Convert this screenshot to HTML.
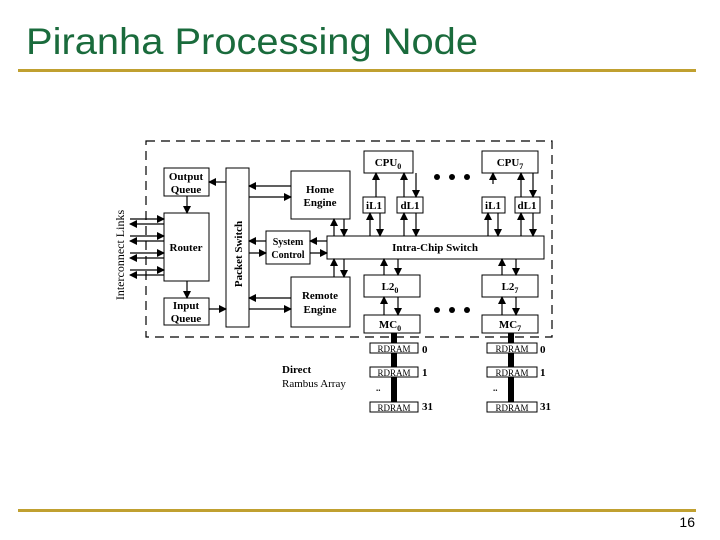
<!DOCTYPE html>
<html><head><meta charset="utf-8"><style>
html,body{margin:0;padding:0;background:#fff;}
svg{display:block;}
</style></head><body>
<svg width="720" height="540" viewBox="0 0 720 540" xmlns="http://www.w3.org/2000/svg">
<defs>
<marker id="a" markerWidth="8" markerHeight="8" refX="7" refY="4" orient="auto" markerUnits="userSpaceOnUse">
<path d="M0,0 L8,4 L0,8 z" fill="#000"/></marker>
</defs>
<text x="26" y="54" font-family="Liberation Sans, sans-serif" font-size="37" fill="#1a6b3c" textLength="452" lengthAdjust="spacingAndGlyphs">Piranha Processing Node</text>
<rect x="18" y="69" width="678" height="3" fill="#c0a030"/>
<rect x="18" y="509" width="678" height="3" fill="#c0a030"/>
<text x="695" y="527" text-anchor="end" font-family="Liberation Sans, sans-serif" font-size="14" fill="#000">16</text>

<g font-family="Liberation Serif, serif" font-weight="bold" font-size="11" fill="#000" text-anchor="middle">
<rect x="146" y="141" width="406" height="196" fill="none" stroke="#000" stroke-width="1.2" stroke-dasharray="9,6"/>
<g fill="#fff" stroke="#000" stroke-width="1">
<rect x="164" y="168" width="45" height="28"/>
<rect x="164" y="213" width="45" height="68"/>
<rect x="164" y="298" width="45" height="27"/>
<rect x="226" y="168" width="23" height="159"/>
<rect x="291" y="171" width="59" height="48"/>
<rect x="266" y="231" width="44" height="33"/>
<rect x="291" y="277" width="59" height="50"/>
<rect x="327" y="236" width="217" height="23"/>
<rect x="364" y="151" width="49" height="22"/>
<rect x="482" y="151" width="56" height="22"/>
<rect x="363" y="197" width="22" height="16"/>
<rect x="397" y="197" width="26" height="16"/>
<rect x="482" y="197" width="23" height="16"/>
<rect x="515" y="197" width="25" height="16"/>
<rect x="364" y="275" width="56" height="22"/>
<rect x="482" y="275" width="56" height="22"/>
<rect x="364" y="315" width="56" height="18"/>
<rect x="482" y="315" width="56" height="18"/>
</g>
<text x="186" y="180">Output</text><text x="186" y="193">Queue</text>
<text x="186" y="251">Router</text>
<text x="186" y="309">Input</text><text x="186" y="322">Queue</text>
<text transform="translate(242,254) rotate(-90)">Packet Switch</text>
<text x="320" y="193">Home</text><text x="320" y="206">Engine</text>
<text x="288" y="245" font-size="10">System</text><text x="288" y="258" font-size="10">Control</text>
<text x="320" y="299">Remote</text><text x="320" y="313">Engine</text>
<text x="435" y="251">Intra-Chip Switch</text>
<text x="388" y="166">CPU<tspan font-size="8" dy="3">0</tspan></text>
<text x="510" y="166">CPU<tspan font-size="8" dy="3">7</tspan></text>
<text x="374" y="209">iL1</text><text x="410" y="209">dL1</text>
<text x="493" y="209">iL1</text><text x="527" y="209">dL1</text>
<text x="390" y="290">L2<tspan font-size="8" dy="3">0</tspan></text>
<text x="510" y="290">L2<tspan font-size="8" dy="3">7</tspan></text>
<text x="390" y="328">MC<tspan font-size="8" dy="3">0</tspan></text>
<text x="510" y="328">MC<tspan font-size="8" dy="3">7</tspan></text>
<text transform="translate(124,255) rotate(-90)" font-weight="normal" font-size="12">Interconnect Links</text>
<text x="282" y="373" text-anchor="start">Direct</text>
<text x="282" y="387" text-anchor="start" font-weight="normal">Rambus Array</text>
<g fill="#000">
<circle cx="437" cy="177" r="3"/><circle cx="452" cy="177" r="3"/><circle cx="467" cy="177" r="3"/>
<circle cx="437" cy="310" r="3"/><circle cx="452" cy="310" r="3"/><circle cx="467" cy="310" r="3"/>
<rect x="391" y="333" width="6" height="73"/>
<rect x="508" y="333" width="6" height="73"/>
</g>
<g fill="#fff" stroke="#000" stroke-width="1">
<rect x="370" y="343" width="48" height="10"/><rect x="370" y="367" width="48" height="10"/><rect x="370" y="402" width="48" height="10"/>
<rect x="487" y="343" width="50" height="10"/><rect x="487" y="367" width="50" height="10"/><rect x="487" y="402" width="50" height="10"/>
</g>
<g font-size="9" font-weight="normal">
<text x="394" y="352">RDRAM</text><text x="394" y="376">RDRAM</text><text x="394" y="411">RDRAM</text>
<text x="512" y="352">RDRAM</text><text x="512" y="376">RDRAM</text><text x="512" y="411">RDRAM</text>
</g>
<g text-anchor="start">
<text x="422" y="353">0</text><text x="422" y="376">1</text><text x="422" y="410">31</text>
<text x="540" y="353">0</text><text x="540" y="376">1</text><text x="540" y="410">31</text>
<text x="376" y="391" font-size="9">..</text><text x="493" y="391" font-size="9">..</text>
</g>
</g>

<g stroke="#000" stroke-width="1.2" marker-end="url(#a)">
<line x1="226" y1="182" x2="209" y2="182"/>
<line x1="187" y1="196" x2="187" y2="213"/>
<line x1="187" y1="281" x2="187" y2="298"/>
<line x1="209" y1="309" x2="226" y2="309"/>
<line x1="291" y1="186" x2="249" y2="186"/>
<line x1="249" y1="197" x2="291" y2="197"/>
<line x1="266" y1="241" x2="249" y2="241"/>
<line x1="249" y1="253" x2="266" y2="253"/>
<line x1="327" y1="241" x2="310" y2="241"/>
<line x1="310" y1="253" x2="327" y2="253"/>
<line x1="291" y1="298" x2="249" y2="298"/>
<line x1="249" y1="309" x2="291" y2="309"/>
<line x1="334" y1="236" x2="334" y2="219"/>
<line x1="344" y1="219" x2="344" y2="236"/>
<line x1="334" y1="277" x2="334" y2="259"/>
<line x1="344" y1="259" x2="344" y2="277"/>
<line x1="376" y1="197" x2="376" y2="173"/>
<line x1="404" y1="197" x2="404" y2="173"/>
<line x1="416" y1="173" x2="416" y2="197"/>
<line x1="370" y1="236" x2="370" y2="213"/>
<line x1="380" y1="213" x2="380" y2="236"/>
<line x1="404" y1="236" x2="404" y2="213"/>
<line x1="416" y1="213" x2="416" y2="236"/>
<line x1="493" y1="184" x2="493" y2="173"/>
<line x1="521" y1="197" x2="521" y2="173"/>
<line x1="533" y1="173" x2="533" y2="197"/>
<line x1="488" y1="236" x2="488" y2="213"/>
<line x1="498" y1="213" x2="498" y2="236"/>
<line x1="521" y1="236" x2="521" y2="213"/>
<line x1="533" y1="213" x2="533" y2="236"/>
<line x1="384" y1="275" x2="384" y2="259"/>
<line x1="398" y1="259" x2="398" y2="275"/>
<line x1="384" y1="315" x2="384" y2="297"/>
<line x1="398" y1="297" x2="398" y2="315"/>
<line x1="502" y1="275" x2="502" y2="259"/>
<line x1="516" y1="259" x2="516" y2="275"/>
<line x1="502" y1="315" x2="502" y2="297"/>
<line x1="516" y1="297" x2="516" y2="315"/>
<line x1="130" y1="219" x2="164" y2="219"/><line x1="164" y1="224" x2="130" y2="224"/>
<line x1="130" y1="236" x2="164" y2="236"/><line x1="164" y1="241" x2="130" y2="241"/>
<line x1="130" y1="253" x2="164" y2="253"/><line x1="164" y1="258" x2="130" y2="258"/>
<line x1="130" y1="270" x2="164" y2="270"/><line x1="164" y1="275" x2="130" y2="275"/>
</g>
</svg>
</body></html>
